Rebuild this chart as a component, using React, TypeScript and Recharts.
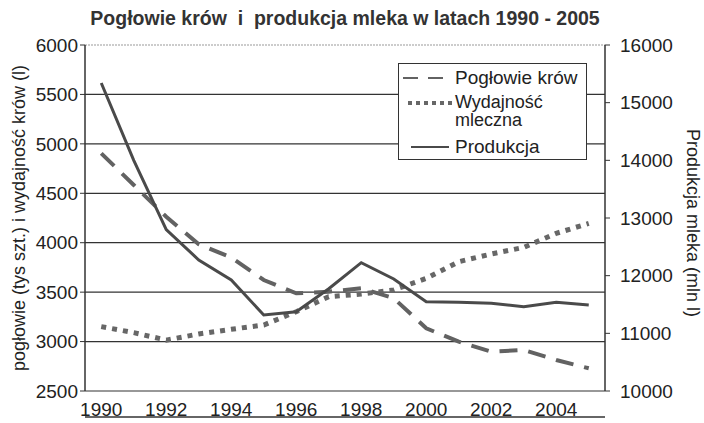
import React from 'react'
import {
  LineChart,
  Line,
  XAxis,
  YAxis,
  CartesianGrid,
  Legend,
} from 'recharts'

// lata 1990 - 2005
const years = [1990, 1991, 1992, 1993, 1994, 1995, 1996, 1997, 1998, 1999, 2000, 2001, 2002, 2003, 2004, 2005]

// pogłowie krów (tys. szt.) - oś lewa
const poglowie = [4904, 4584, 4263, 3984, 3850, 3623, 3488, 3505, 3539, 3438, 3134, 2999, 2898, 2915, 2814, 2730]

// wydajność mleczna (l) - oś lewa
const wydajnosc = [3151, 3090, 3015, 3077, 3124, 3168, 3302, 3454, 3481, 3522, 3640, 3808, 3886, 3953, 4095, 4196]

// produkcja mleka (mln l) - oś prawa
const produkcja = [15341, 14000, 12800, 12272, 11925, 11318, 11375, 11774, 12225, 11942, 11549, 11538, 11520, 11462, 11538, 11491]

const leftTicks = [2500, 3000, 3500, 4000, 4500, 5000, 5500, 6000]
const rightTicks = [10000, 11000, 12000, 13000, 14000, 15000, 16000]
const yearLabels = [1990, 1992, 1994, 1996, 1998, 2000, 2002, 2004]

const data = years.map((year, i) => ({
  year,
  poglowie: poglowie[i],
  wydajnosc: wydajnosc[i],
  produkcja: produkcja[i],
}))

// kreski osi X leżą między latami
const bandEdges = [...years.map(y => y - 0.5), years[years.length - 1] + 0.5]
const xDomain: [number, number] = [bandEdges[0], bandEdges[bandEdges.length - 1]]

const FONT = '"Liberation Sans", Arial, sans-serif'
const TEXT = '#222'
const AXIS = '#333'

const DASHED = { stroke: '#626262', width: 4, dash: '18 11' }
const DOTTED = { stroke: '#676767', width: 5, dash: '5 6' }
const SOLID = { stroke: '#4a4a4a', width: 3 }

function gridLine(props: any) {
  const { x1, x2, y1, y2, y } = props
  // górna linia w oryginale jest jaśniejsza, kropkowana
  if (Math.abs(y1 - y) < 0.5) {
    return <line key={props.key} x1={x1} x2={x2} y1={y1} y2={y2} stroke="#999" strokeDasharray="2 1" />
  }
  return <line key={props.key} x1={x1} x2={x2} y1={y1} y2={y2} stroke={AXIS} strokeWidth={1.2} />
}

function LegendBox() {
  return (
    <div
      style={{
        width: 189,
        height: 97,
        boxSizing: 'border-box',
        border: `1px solid ${AXIS}`,
        background: '#fff',
        position: 'relative',
      }}
    >
      <svg width={187} height={95} style={{ position: 'absolute', left: 0, top: 0, fontFamily: FONT }}>
        <line x1={4} x2={50} y1={14} y2={14} stroke={DASHED.stroke} strokeWidth={2} strokeDasharray="15 10" />
        <text x={56} y={20} fontSize={19} fill={TEXT}>Pogłowie krów</text>

        <line x1={9} x2={54} y1={39} y2={39} stroke={DOTTED.stroke} strokeWidth={4} strokeDasharray="4 4" />
        <text x={56} y={44} fontSize={18} fill={TEXT}>Wydajność</text>
        <text x={56} y={62} fontSize={18} fill={TEXT}>mleczna</text>

        <line x1={12} x2={50} y1={83} y2={83} stroke={SOLID.stroke} strokeWidth={2} />
        <text x={56} y={89} fontSize={19} fill={TEXT}>Produkcja</text>
      </svg>
    </div>
  )
}

export default function App() {
  return (
    <div style={{ position: 'absolute', left: 0, top: 0, background: '#fff' }}>
      <LineChart
        width={704}
        height={423}
        data={data}
        margin={{ top: 45, right: 0, bottom: 0, left: 0 }}
        style={{ fontFamily: FONT }}
      >
        <text
          x={345}
          y={25}
          textAnchor="middle"
          fontSize={19.5}
          fontWeight="bold"
          fill="#333"
          style={{ whiteSpace: 'pre' }}
        >
          Pogłowie krów  i  produkcja mleka w latach 1990 - 2005
        </text>

        <text
          x={25}
          y={218}
          transform="rotate(-90, 25, 218)"
          textAnchor="middle"
          fontSize={18}
          fill={TEXT}
        >
          pogłowie (tys szt.) i wydajność krów (l)
        </text>

        <text
          x={687}
          y={223}
          transform="rotate(90, 687, 223)"
          textAnchor="middle"
          fontSize={18}
          fill={TEXT}
        >
          Produkcja mleka (mln l)
        </text>

        <CartesianGrid vertical={false} xAxisId="main" yAxisId="left" horizontal={gridLine} />

        <XAxis
          xAxisId="main"
          dataKey="year"
          type="number"
          domain={xDomain}
          ticks={bandEdges}
          interval={0}
          tick={false}
          tickSize={4}
          height={6}
          axisLine={{ stroke: AXIS, strokeWidth: 1.5 }}
          tickLine={{ stroke: AXIS }}
        />
        <XAxis
          xAxisId="labels"
          dataKey="year"
          type="number"
          domain={xDomain}
          ticks={yearLabels}
          interval={0}
          axisLine={false}
          tickLine={false}
          tickSize={0}
          tickMargin={12}
          height={26}
          tick={{ fill: TEXT, fontSize: 19 }}
        />

        <YAxis
          yAxisId="left"
          domain={[2500, 6000]}
          ticks={leftTicks}
          interval={0}
          width={85}
          tickSize={5}
          tickMargin={2}
          axisLine={{ stroke: AXIS, strokeWidth: 1.5 }}
          tickLine={{ stroke: AXIS }}
          tick={{ fill: TEXT, fontSize: 19 }}
        />
        <YAxis
          yAxisId="right"
          orientation="right"
          domain={[10000, 16000]}
          ticks={rightTicks}
          interval={0}
          width={99}
          tickSize={5}
          tickMargin={10}
          axisLine={{ stroke: AXIS, strokeWidth: 1.5 }}
          tickLine={{ stroke: AXIS }}
          tick={{ fill: TEXT, fontSize: 19 }}
        />

        <Legend
          layout="horizontal"
          verticalAlign="middle"
          align="center"
          wrapperStyle={{ left: 398, top: 63, width: 189, height: 97 }}
          content={() => <LegendBox />}
        />

        <Line
          xAxisId="main"
          yAxisId="left"
          dataKey="wydajnosc"
          name="Wydajność mleczna"
          type="linear"
          stroke={DOTTED.stroke}
          strokeWidth={DOTTED.width}
          strokeDasharray={DOTTED.dash}
          dot={false}
          activeDot={false}
          isAnimationActive={false}
        />
        <Line
          xAxisId="main"
          yAxisId="left"
          dataKey="poglowie"
          name="Pogłowie krów"
          type="linear"
          stroke={DASHED.stroke}
          strokeWidth={DASHED.width}
          strokeDasharray={DASHED.dash}
          dot={false}
          activeDot={false}
          isAnimationActive={false}
        />
        <Line
          xAxisId="main"
          yAxisId="right"
          dataKey="produkcja"
          name="Produkcja"
          type="linear"
          stroke={SOLID.stroke}
          strokeWidth={SOLID.width}
          dot={false}
          activeDot={false}
          isAnimationActive={false}
        />
      </LineChart>
    </div>
  )
}
